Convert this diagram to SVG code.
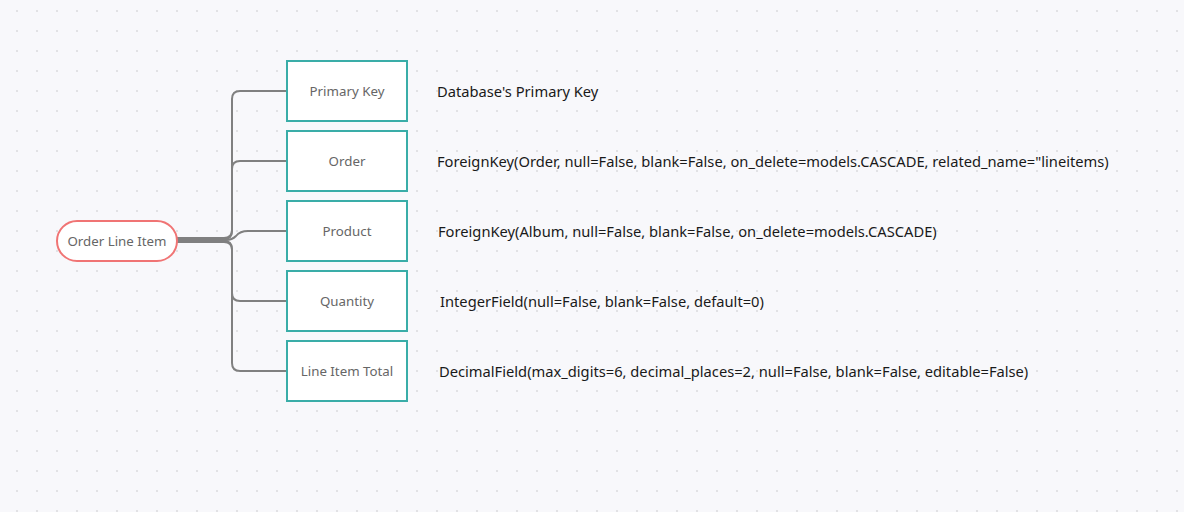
<svg xmlns="http://www.w3.org/2000/svg" width="1184" height="512" viewBox="0 0 1184 512">
<defs>
<pattern id="dots" x="0" y="0" width="20" height="20" patternUnits="userSpaceOnUse">
<circle cx="17" cy="11" r="1.1" fill="#dcdce0"/>
</pattern>
<style>
.box{fill:#ffffff;stroke:#3aada8;stroke-width:2}
.oval{fill:#ffffff;stroke:#f07474;stroke-width:2}
.lbl{font-family:"Noto Sans","Open Sans",sans-serif;font-size:13.3px;fill:#666666;text-anchor:middle}
.desc{font-family:"Noto Sans","Open Sans",sans-serif;font-size:14.7px;fill:#1a1a1a}
.conn{fill:none;stroke:#808080;stroke-width:2}
</style>
</defs>
<rect width="1184" height="512" fill="#f8f8fb"/>
<rect width="1184" height="512" fill="url(#dots)"/>
<g id="connectors">
<path class="conn" d="M177,238 H224 Q232,238 232,230 V99 Q232,91 240,91 H287"/>
<path class="conn" d="M177,239 H224 Q232,239 232,231 V169 Q232,161 240,161 H287"/>
<path class="conn" d="M177,240 H226 Q232,240 236,236 Q240,231 248,231 H287"/>
<path class="conn" d="M177,241 H224 Q232,241 232,249 V293 Q232,301 240,301 H287"/>
<path class="conn" d="M177,242 H224 Q232,242 232,250 V363 Q232,371 240,371 H287"/>
</g>
<g id="order-line-item">
<rect class="oval" x="57" y="221" width="120" height="40" rx="20"/>
<text class="lbl" x="117" y="245.5">Order Line Item</text>
</g>
<g id="primary-key">
<rect class="box" x="287" y="61" width="120" height="60"/>
<text class="lbl" x="347" y="95.5">Primary Key</text>
</g>
<g id="order">
<rect class="box" x="287" y="131" width="120" height="60"/>
<text class="lbl" x="347" y="165.5">Order</text>
</g>
<g id="product">
<rect class="box" x="287" y="201" width="120" height="60"/>
<text class="lbl" x="347" y="235.5">Product</text>
</g>
<g id="quantity">
<rect class="box" x="287" y="271" width="120" height="60"/>
<text class="lbl" x="347" y="305.5">Quantity</text>
</g>
<g id="line-item-total">
<rect class="box" x="287" y="341" width="120" height="60"/>
<text class="lbl" x="347" y="375.5">Line Item Total</text>
</g>
<g id="descriptions">
<text class="desc" x="437" y="97">Database's Primary Key</text>
<text class="desc" x="437" y="167">ForeignKey(Order, null=False, blank=False, on_delete=models.CASCADE, related_name="lineitems)</text>
<text class="desc" x="438" y="237">ForeignKey(Album, null=False, blank=False, on_delete=models.CASCADE)</text>
<text class="desc" x="440" y="307">IntegerField(null=False, blank=False, default=0)</text>
<text class="desc" x="439" y="377">DecimalField(max_digits=6, decimal_places=2, null=False, blank=False, editable=False)</text>
</g>
</svg>
